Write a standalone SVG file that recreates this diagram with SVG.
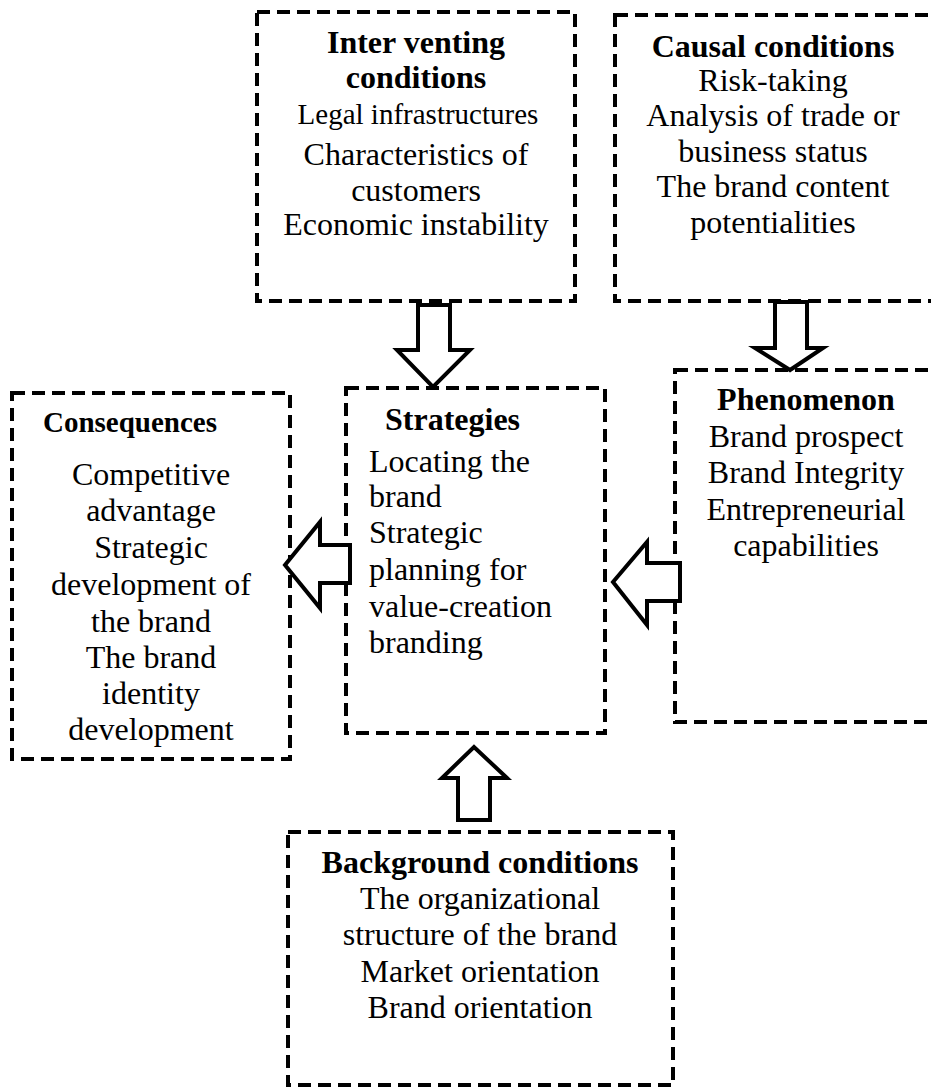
<svg xmlns="http://www.w3.org/2000/svg" width="931" height="1090" viewBox="0 0 931 1090">
<style>
.box{fill:none;stroke:#000;stroke-width:4;stroke-dasharray:13 7;}
.arr{fill:#fff;stroke:#000;stroke-width:4;stroke-linejoin:miter;}
text{font-family:"Liberation Serif","Times New Roman",serif;font-size:32px;fill:#000;}
.t{font-weight:bold;}
.c{text-anchor:middle;}
</style>
<rect x="0" y="0" width="931" height="1090" fill="#fff"/>
<g id="intervening">
<rect class="box" x="257" y="12" width="318" height="289"/>
<text class="t c" x="416" y="53">Inter venting</text>
<text class="t c" x="416" y="88">conditions</text>
<text class="c" x="418" y="124" style="font-size:29px">Legal infrastructures</text>
<text class="c" x="416" y="165">Characteristics of</text>
<text class="c" x="416" y="201">customers</text>
<text class="c" x="416" y="235">Economic instability</text>
</g>
<g id="causal">
<rect class="box" x="615" y="15" width="330" height="286"/>
<text class="t c" x="773" y="57">Causal conditions</text>
<text class="c" x="773" y="91">Risk-taking</text>
<text class="c" x="773" y="126">Analysis of trade or</text>
<text class="c" x="773" y="162">business status</text>
<text class="c" x="773" y="197">The brand content</text>
<text class="c" x="773" y="233">potentialities</text>
</g>
<g id="phenomenon">
<rect class="box" x="675" y="370" width="270" height="352"/>
<text class="t c" x="806" y="410">Phenomenon</text>
<text class="c" x="806" y="447">Brand prospect</text>
<text class="c" x="806" y="483">Brand Integrity</text>
<text class="c" x="806" y="520">Entrepreneurial</text>
<text class="c" x="806" y="556">capabilities</text>
</g>
<g id="strategies">
<rect class="box" x="346" y="388" width="259" height="345"/>
<text class="t" x="385" y="430">Strategies</text>
<text x="369" y="472">Locating the</text>
<text x="369" y="507">brand</text>
<text x="369" y="543">Strategic</text>
<text x="369" y="580">planning for</text>
<text x="369" y="617">value-creation</text>
<text x="369" y="653">branding</text>
</g>
<g id="consequences">
<rect class="box" x="12" y="393" width="278" height="366"/>
<text class="t" x="43" y="432" style="font-size:29px">Consequences</text>
<text class="c" x="151" y="485">Competitive</text>
<text class="c" x="151" y="521">advantage</text>
<text class="c" x="151" y="558">Strategic</text>
<text class="c" x="151" y="595">development of</text>
<text class="c" x="151" y="632">the brand</text>
<text class="c" x="151" y="668">The brand</text>
<text class="c" x="151" y="704">identity</text>
<text class="c" x="151" y="740">development</text>
</g>
<g id="background">
<rect class="box" x="288" y="832" width="385" height="253"/>
<text class="t c" x="480" y="873">Background conditions</text>
<text class="c" x="480" y="909">The organizational</text>
<text class="c" x="480" y="945">structure of the brand</text>
<text class="c" x="480" y="982">Market orientation</text>
<text class="c" x="480" y="1018">Brand orientation</text>
</g>
<g id="connectors">
<polygon class="arr" points="418,305 450,305 450,350 470,350 433,387 397,350 418,350"/>
<polygon class="arr" points="775,302 807,302 807,348 823,348 790,370 755,348 775,348"/>
<polygon class="arr" points="350,545 350,583 320,583 320,608 285,565 320,522 320,545"/>
<polygon class="arr" points="680,563 680,601 647,601 647,625 613,582 647,542 647,563"/>
<polygon class="arr" points="458,820 490,820 490,778 507,778 474,747 442,778 458,778"/>
</g>
</svg>
